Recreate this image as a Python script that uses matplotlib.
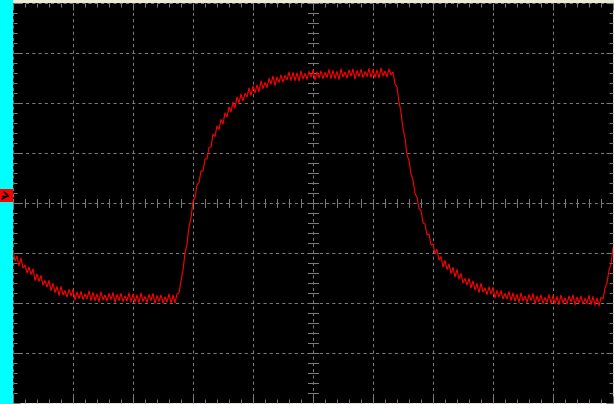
#!/usr/bin/env python3
# Oscilloscope screen capture: one channel, RC style charge / discharge trace
import numpy as np
import matplotlib
matplotlib.use("Agg")
import matplotlib.pyplot as plt
from matplotlib.patches import Rectangle
from matplotlib.lines import Line2D

# Screen in divisions: 10 horizontal, 8 vertical, centre at (0, 0)
T_Min, T_Max = -5, 5
V_Min, V_Max = -4, 4

# Trace samples (vertical divisions), left to right
Trace = [
    -0.96, -1.16, -1.06, -1.26, -1.10, -1.30, -1.24, -1.40, -1.28, -1.43,
    -1.32, -1.55, -1.42, -1.57, -1.45, -1.64, -1.55, -1.68, -1.55, -1.75,
    -1.61, -1.79, -1.67, -1.85, -1.67, -1.84, -1.75, -1.88, -1.73, -1.86,
    -1.73, -1.94, -1.78, -1.91, -1.77, -1.93, -1.82, -1.92, -1.76, -1.95,
    -1.79, -1.95, -1.82, -1.98, -1.78, -1.94, -1.84, -1.96, -1.81, -1.93,
    -1.79, -1.99, -1.83, -1.95, -1.81, -1.97, -1.86, -1.96, -1.80, -1.98,
    -1.82, -1.98, -1.84, -2.00, -1.80, -1.97, -1.87, -1.99, -1.83, -1.95,
    -1.81, -2.01, -1.85, -1.97, -1.84, -2.00, -1.88, -1.98, -1.82, -2.00,
    -1.84, -2.00, -1.82, -1.80, -1.56, -1.34, -1.00, -0.82, -0.48, -0.30,
    0.04, 0.11, 0.36, 0.41, 0.64, 0.64, 0.88, 0.88, 1.11, 1.12,
    1.38, 1.33, 1.54, 1.47, 1.67, 1.58, 1.80, 1.72, 1.92, 1.82,
    2.02, 1.90, 2.12, 2.00, 2.18, 2.04, 2.19, 2.12, 2.30, 2.15,
    2.34, 2.20, 2.36, 2.22, 2.44, 2.29, 2.41, 2.31, 2.49, 2.38,
    2.54, 2.35, 2.52, 2.41, 2.56, 2.42, 2.55, 2.46, 2.62, 2.45,
    2.61, 2.45, 2.60, 2.44, 2.64, 2.48, 2.59, 2.47, 2.63, 2.52,
    2.66, 2.46, 2.62, 2.50, 2.64, 2.49, 2.61, 2.51, 2.67, 2.49,
    2.65, 2.49, 2.63, 2.47, 2.68, 2.52, 2.62, 2.50, 2.66, 2.54,
    2.68, 2.48, 2.65, 2.53, 2.67, 2.51, 2.63, 2.53, 2.69, 2.51,
    2.67, 2.51, 2.66, 2.50, 2.70, 2.54, 2.64, 2.52, 2.68, 2.56,
    2.62, 2.38, 2.32, 2.02, 1.82, 1.48, 1.30, 0.96, 0.85, 0.58,
    0.46, 0.19, 0.11, -0.11, -0.15, -0.40, -0.42, -0.64, -0.62, -0.84,
    -0.82, -1.01, -0.93, -1.14, -1.07, -1.28, -1.15, -1.33, -1.22, -1.41,
    -1.29, -1.48, -1.33, -1.52, -1.41, -1.60, -1.51, -1.64, -1.51, -1.70,
    -1.56, -1.74, -1.61, -1.79, -1.61, -1.78, -1.70, -1.83, -1.68, -1.82,
    -1.69, -1.90, -1.75, -1.88, -1.75, -1.92, -1.81, -1.92, -1.77, -1.95,
    -1.80, -1.96, -1.83, -1.99, -1.80, -1.96, -1.86, -1.99, -1.83, -1.95,
    -1.81, -2.02, -1.86, -1.98, -1.84, -2.01, -1.89, -1.99, -1.83, -2.01,
    -1.85, -2.01, -1.87, -2.03, -1.84, -2.00, -1.90, -2.02, -1.86, -1.98,
    -1.84, -2.04, -1.88, -2.00, -1.86, -2.02, -1.91, -2.01, -1.85, -2.03,
    -1.87, -2.04, -1.90, -2.06, -1.89, -1.92, -1.70, -1.60, -1.34, -1.22,
    -0.90,
]
Time = np.linspace(T_Min, T_Max, len(Trace))   # samples span the full screen

Grid_Col = '#7a7a7a'

fig = plt.figure(figsize=(6.14, 4.04), dpi=100, facecolor='#ece9d8')
ax = fig.add_axes([13/614, 1/404, 600/614, 400/404])
ax.set_facecolor('black')

# Dashed graticule on the major divisions
ax.set_xticks(np.arange(T_Min, T_Max + 1, 1))
ax.set_yticks(np.arange(V_Min, V_Max + 1, 1))
ax.set_xticks(np.arange(T_Min, T_Max + 0.01, 0.2), minor=True)
ax.set_yticks(np.arange(V_Min, V_Max + 0.01, 0.2), minor=True)
ax.grid(True, which='major', color=Grid_Col, linestyle=(0, (3, 3)), linewidth=0.75)
ax.tick_params(which='both', direction='in', color=Grid_Col, width=0.75,
               top=True, right=True, labelbottom=False, labelleft=False)
ax.tick_params(which='major', length=5)
ax.tick_params(which='minor', length=3)
for s in ax.spines.values():
    s.set_visible(False)

# Sub-division marks along the centre cross
for t in np.arange(T_Min, T_Max + 0.01, 0.2):
    ax.plot([t, t], [-0.08, 0.08], color=Grid_Col, lw=0.75)
for v in np.arange(V_Min, V_Max + 0.01, 0.2):
    ax.plot([-0.085, 0.085], [v, v], color=Grid_Col, lw=0.75)

# The trace
ax.plot(Time, Trace, color='#ff0000', lw=0.8)
ax.set_xlim(T_Min, T_Max)
ax.set_ylim(V_Min, V_Max)

# Cyan channel strip at the left with the red ground marker
fig.add_artist(Rectangle((0, 0), 13/614, 1, transform=fig.transFigure,
                         color='#00ffff', lw=0))
fig.add_artist(Rectangle((0, 202/404), 13/614, 13/404, transform=fig.transFigure,
                         color='#ff0000', lw=0))
fig.add_artist(Line2D([2/614, 8/614, 4/614], [205/404, 208.5/404, 212/404],
                      transform=fig.transFigure, color='black', lw=1.2))
fig.add_artist(Line2D([2/614, 8/614], [208.5/404, 208.5/404],
                      transform=fig.transFigure, color='black', lw=1.0))

plt.savefig("out.png", dpi=100, facecolor=fig.get_facecolor())
